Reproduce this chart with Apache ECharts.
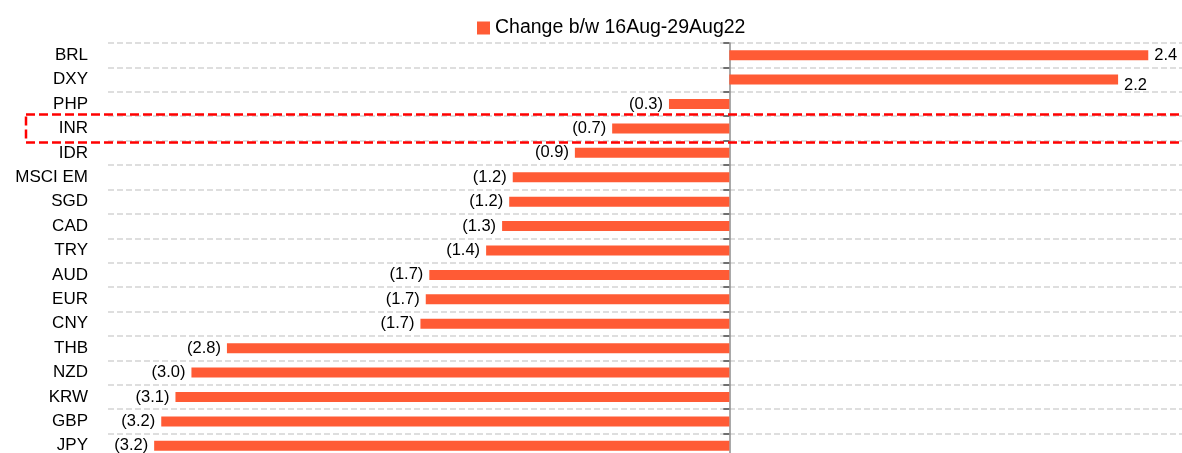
<!DOCTYPE html>
<html>
<head>
<meta charset="utf-8">
<script src="https://cdn.jsdelivr.net/npm/echarts@6/dist/echarts.min.js"></script>
<style>
html,body{margin:0;padding:0;background:#fff;}
#chart{width:1182px;height:453px;}
</style>
</head>
<body>
<div id="chart"></div>
<script>
const categories = ['BRL','DXY','PHP','INR','IDR','MSCI EM','SGD','CAD','TRY','AUD','EUR','CNY','THB','NZD','KRW','GBP','JPY'];
const changeValues = [2.36, 2.19, -0.34, -0.66, -0.87, -1.22, -1.24, -1.28, -1.37, -1.69, -1.71, -1.74, -2.83, -3.03, -3.12, -3.20, -3.24];
const seriesName = 'Change b/w 16Aug-29Aug22';
const highlightCategory = 'INR';

const FONT = 'Liberation Sans, Arial, sans-serif';
const BAR_COLOR = '#ff5b35';

const chart = echarts.init(document.getElementById('chart'), null, {renderer:'canvas'});

const barData = changeValues.map((v, i) => {
  const item = {
    value: v,
    label: { position: v < 0 ? 'left' : 'right' }
  };
  if (categories[i] === 'DXY') item.label.offset = [0, 6];
  return item;
});

chart.setOption({
  animation: false,
  backgroundColor: '#ffffff',
  textStyle: { fontFamily: FONT },
  legend: {
    left: 477,
    top: 18,
    padding: 0,
    itemWidth: 13,
    itemHeight: 13,
    itemGap: 10,
    icon: 'rect',
    textStyle: { fontFamily: FONT, fontSize: 19.5, color: '#000' },
    data: [seriesName]
  },
  grid: { left: 108, right: 0, top: 43, height: 415, containLabel: false, outerBoundsMode: 'none' },
  xAxis: {
    type: 'value',
    min: -3.5,
    max: 2.55,
    axisLine: { show: false },
    axisTick: { show: false },
    axisLabel: { show: false },
    splitLine: { show: false }
  },
  yAxis: {
    type: 'category',
    inverse: true,
    data: categories,
    axisLine: { show: true, onZero: true, lineStyle: { color: '#8c8c8c', width: 1.5 } },
    axisTick: { show: true, length: 6, lineStyle: { color: '#707070', width: 2 } },
    axisLabel: { margin: 20, fontFamily: FONT, fontSize: 17, color: '#000', align: 'right' },
    splitLine: { show: true, lineStyle: { color: '#d4d4d4', width: 1.5, type: [6, 3] } }
  },
  series: [{
    name: seriesName,
    type: 'bar',
    barWidth: 10,
    itemStyle: { color: BAR_COLOR },
    label: {
      show: true,
      distance: 6,
      fontFamily: FONT,
      fontSize: 16.5,
      color: '#000',
      formatter: p => p.value < 0 ? '(' + Math.abs(p.value).toFixed(1) + ')' : p.value.toFixed(1)
    },
    data: barData
  }]
});

// highlight box around the INR row
const cy = chart.convertToPixel({ yAxisIndex: 0 }, highlightCategory);
chart.setOption({
  graphic: [{
    type: 'rect',
    shape: { x: 26, y: cy - 14, width: 1180, height: 28 },
    style: { fill: 'none', stroke: '#ff0000', lineWidth: 2.5, lineDash: [9, 4] },
    z: 100
  }]
});
</script>
</body>
</html>
